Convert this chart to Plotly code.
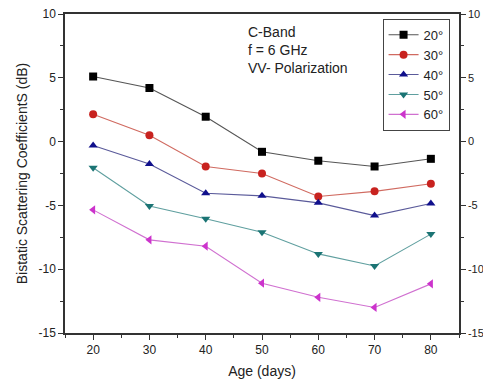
import plotly.graph_objects as go

ages = [20, 30, 40, 50, 60, 70, 80]
s20 = [5.1, 4.2, 1.95, -0.8, -1.5, -1.95, -1.35]
s30 = [2.15, 0.5, -1.95, -2.5, -4.3, -3.9, -3.3]
s40 = [-0.3, -1.75, -4.05, -4.25, -4.8, -5.8, -4.85]
s50 = [-2.05, -5.05, -6.05, -7.1, -8.8, -9.75, -7.25]
s60 = [-5.35, -7.7, -8.2, -11.1, -12.2, -13.0, -11.15]
names = ["20°", "30°", "40°", "50°", "60°"]
yticks = [10, 5, 0, -5, -10, -15]
xticks = [20, 30, 40, 50, 60, 70, 80]

series = [s20, s30, s40, s50, s60]
symbols = ["square", "circle", "triangle-up", "triangle-down", "triangle-left"]
mcolors = ["#000000", "#c8221f", "#10108c", "#1b7474", "#cc33cc"]
lcolors = ["#555555", "#d06a60", "#5a5a9a", "#5f9f9f", "#d070d0"]

fig = go.Figure()
for s, n, sym, mc, lc in zip(series, names, symbols, mcolors, lcolors):
    fig.add_trace(go.Scatter(
        x=ages, y=s, name=n, mode="lines+markers",
        line=dict(color=lc, width=1.1),
        marker=dict(symbol=sym, color=mc, size=8, line=dict(width=0)),
    ))
# invisible trace for right axis
fig.add_trace(go.Scatter(x=[ages[0]], y=[0], yaxis="y2", showlegend=False,
                         mode="markers", marker=dict(opacity=0), hoverinfo="skip"))

font = dict(family="Liberation Sans, Arial, sans-serif", color="#222222")
fig.update_layout(
    width=483, height=385,
    margin=dict(l=65, r=24, t=14, b=52, autoexpand=False),
    paper_bgcolor="white", plot_bgcolor="white",
    font=dict(**font, size=12),
    showlegend=True,
    legend=dict(x=0.806, y=0.985, xanchor="left", yanchor="top",
                bordercolor="#444444", borderwidth=1, bgcolor="white",
                font=dict(**font, size=13), tracegroupgap=0,
                itemwidth=30),
    xaxis=dict(range=[15, 85], tickvals=xticks, ticktext=[str(v) for v in xticks],
               automargin=False,
               showline=True, linecolor="#333333", linewidth=1.5, mirror=True,
               ticks="outside", ticklen=5, tickcolor="#333333",
               minor=dict(dtick=5, ticklen=3, ticks="outside", tickcolor="#333333"),
               showgrid=False, zeroline=False,
               title=dict(text="Age (days)", font=dict(**font, size=14), standoff=10),
               tickfont=dict(**font, size=12)),
    yaxis=dict(range=[-15, 10], tickvals=yticks, ticktext=[str(v) for v in yticks],
               automargin=False,
               showline=True, linecolor="#333333", linewidth=1.5,
               ticks="outside", ticklen=5, tickcolor="#333333",
               minor=dict(dtick=2.5, ticklen=3, ticks="outside", tickcolor="#333333"),
               showgrid=False, zeroline=False,
               title=dict(text="Bistatic Scattering CoefficientS (dB)",
                          font=dict(**font, size=14), standoff=8),
               tickfont=dict(**font, size=12)),
    yaxis2=dict(range=[-15, 10], tickvals=yticks, ticktext=[str(v) for v in yticks],
                overlaying="y", side="right", automargin=False,
                showline=True, linecolor="#333333", linewidth=1.5,
                ticks="outside", ticklen=5, tickcolor="#333333",
                minor=dict(dtick=2.5, ticklen=3, ticks="outside", tickcolor="#333333"),
                showgrid=False, zeroline=False,
                tickfont=dict(**font, size=11)),
    annotations=[dict(text="C-Band<br>f = 6 GHz<br>VV- Polarization",
                      xref="paper", yref="paper", x=0.46, y=0.975,
                      xanchor="left", yanchor="top", align="left", showarrow=False,
                      font=dict(**font, size=14))],
)
fig.write_html("out.html")
